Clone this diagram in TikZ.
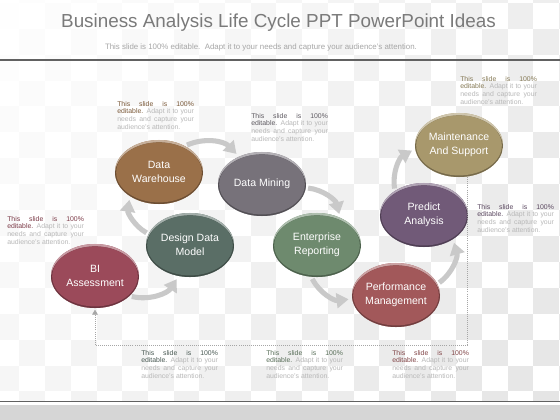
\documentclass[tikz,border=0pt]{standalone}
\usepackage{fontspec}
\setmainfont{Liberation Sans}
\usetikzlibrary{shapes.geometric,arrows.meta}
\definecolor{biC}{HTML}{9B4A5A}
\definecolor{ddmC}{HTML}{5A6E66}
\definecolor{dwC}{HTML}{9A7049}
\definecolor{dmC}{HTML}{77727A}
\definecolor{erC}{HTML}{6E8A6E}
\definecolor{pmC}{HTML}{A2585A}
\definecolor{paC}{HTML}{715A78}
\definecolor{msC}{HTML}{A8986C}
\newcommand{\blurb}[1]{{\color{#1!80!black}This slide is 100\%\linebreak editable.} Adapt it to your\linebreak needs and capture your\linebreak audience's attention.}

\begin{document}
\begin{tikzpicture}[x=0.025cm,y=-0.025cm]
\tikzset{% This is the style settings for nodes
  stage/.style={ellipse, fill=#1, minimum width=2.2cm, minimum height=1.6cm, inner sep=0pt,
    text=white, align=center, font=\fontsize{7.5}{9.7}\selectfont,
    path picture={
      \fill[#1!55!white] (path picture bounding box.center) ellipse [x radius=1.1cm, y radius=0.8cm];
      \fill[#1!70!black] ([yshift=-0.06cm]path picture bounding box.center) ellipse [x radius=1.1cm, y radius=0.8cm];
      \fill[#1] ([yshift=-0.01cm]path picture bounding box.center) ellipse [x radius=1.07cm, y radius=0.75cm];}},
  note/.style={anchor=north west, text width=54.5pt, align=justify, inner sep=0pt,
    font=\fontsize{4.9}{5.4}\selectfont, text=black!28},
  flow/.style={draw=black!21, line width=3.6pt, -{Triangle[width=10.5pt,length=8.5pt]},
    shorten <=1.5pt, shorten >=2.5pt},
  guide/.style={draw=black!35, line width=0.45pt, densely dotted, -{Triangle[width=4pt,length=3.5pt]}},
}
\useasboundingbox (0,0) rectangle (560,420);
% background
\fill[white] (0,0) rectangle (560,420);
\begin{scope}
\clip (0,0) rectangle (560,400);
\foreach \i in {-19,...,3} {
  \foreach \j in {-10,...,6} {
    \pgfmathtruncatemacro\parity{mod(\i+\j+100,2)}
    \ifnum\parity=0
      \pgfmathsetmacro\xa{482+25.7*\i}
      \pgfmathsetmacro\ya{236+25.9*\j}
      \pgfmathsetmacro\lev{0.3+6.5*(\xa+13)/560+3.5*(\ya+13)/420}
      \fill[black!\lev] (\xa,\ya) rectangle ++(25.7,25.9);
    \fi
  }
}
\end{scope}
\fill[black!16] (0,405) rectangle (560,420);
\draw[line width=1.4pt, black!62] (0,60) -- (560,60);
\draw[line width=1.4pt, black!62] (0,401.5) -- (560,401.5);
% Titles
\node[anchor=base, font=\fontsize{13.4}{16}\selectfont, text=black!52] (title) at (278.5,28)
  {Business Analysis Life Cycle PPT PowerPoint Ideas};
\node[anchor=base, font=\fontsize{5.6}{7}\selectfont, text=black!35] (sub) at (261,50)
  {This slide is 100\% editable.\ \ Adapt it to your needs and capture your audience's attention.};
% Nodes
\node[stage=biC] (bi) at (95,276) {BI\\Assessment};
\node[stage=ddmC] (ddm) at (190,245) {Design Data\\Model};
\node[stage=dwC] (dw) at (159,172) {Data\\Warehouse};
\node[stage=dmC] (dm) at (262,184) {Data Mining};
\node[stage=erC] (er) at (317,245) {Enterprise\\Reporting};
\node[stage=pmC] (pm) at (396,295) {Performance\\Management};
\node[stage=paC] (pa) at (424,215) {Predict\\Analysis};
\node[stage=msC] (ms) at (459,145) {Maintenance\\And Support};
% Notes
\node[note] (tdw) at (117,101) {\blurb{dwC}};
\node[note] (tdm) at (251,113) {\blurb{dmC}};
\node[note] (tms) at (460,76) {\blurb{msC}};
\node[note] (tpa) at (477,204) {\blurb{paC}};
\node[note] (tbi) at (7,216) {\blurb{biC}};
\node[note] (tddm) at (141,350) {\blurb{ddmC}};
\node[note] (ter) at (266,350) {\blurb{erC}};
\node[note] (tpm) at (392,350) {\blurb{pmC}};
% Edges
\draw[flow] (bi.-30) to[bend right=35] (ddm.-110);
\draw[flow] (ddm.165) to[bend left=35] (dw.-140);
\draw[flow] (dw.45) to[bend left=35] (dm.130);
\draw[flow] (dm.-5) to[bend left=35] (er.50);
\draw[flow] (er.-100) to[bend right=35] (pm.-175);
\draw[flow] (pm.15) to[bend right=35] (pa.-40);
\draw[flow] (pa.140) to[bend left=35] (ms.-175);
\coordinate (turn) at (467,345);
\draw[guide] (ms.south -| turn) -- (turn) -| ([yshift=-1pt]bi.south);
\end{tikzpicture}
\end{document}
